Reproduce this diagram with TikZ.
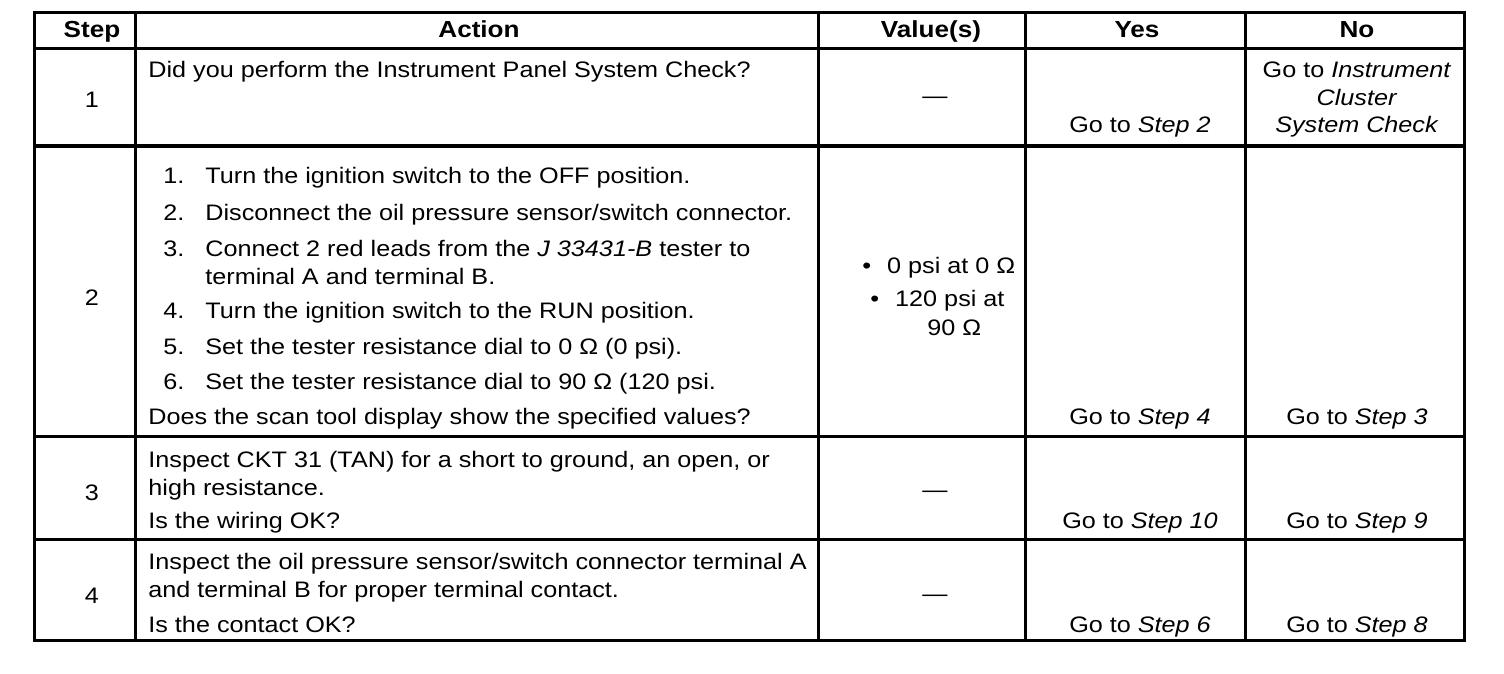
\documentclass[tikz,border=0pt]{standalone}
\usepackage{fontspec}
\setmainfont{Liberation Sans}[FakeStretch=1.125]
\def\goto#1{Go to \textit{Step #1}}
\def\novalue{---}
\def\litem#1#2#3{\node[txt] (num#1) at (163,#2) {#1.}; \node[txt] (item#1) at (205,#2) {#3};}
\tikzset{
  txt/.style={inner sep=0pt, anchor=base west},
  ctr/.style={inner sep=0pt, anchor=base},
  hdr/.style={inner sep=0pt, anchor=base, font=\fontsize{11.6}{14}\selectfont\bfseries},
  rule/.style={line width=1.5pt}
}

\begin{document}
\begin{tikzpicture}[x=0.5pt, y=-0.5pt, font=\fontsize{11.2}{13.75}\selectfont]
  \useasboundingbox (0,0) rectangle (1504,674);
  % grid
  \draw[rule] (34,13) rectangle (1464,640);
  \foreach \x in {135,818,1025,1245} \draw[rule] (\x,13) -- (\x,640);
  \foreach \y in {49,146,436,539} \draw[rule] (34,\y) -- (1464,\y);
  % header
  \node[hdr] (hstep) at (92,38) {Step};
  \node[hdr] (haction) at (479,38) {Action};
  \node[hdr] (hvalue) at (931,38) {Value(s)};
  \node[hdr] (hyes) at (1137,38) {Yes};
  \node[hdr] (hno) at (1357,38) {No};
  % step 1
  \node[ctr] (s1) at (92,108) {1};
  \node[txt] (a1) at (148,78) {Did you perform the Instrument Panel System Check?};
  \node[ctr] (v1) at (935,104) {\novalue};
  \node[ctr] (y1) at (1140,133) {\goto{2}};
  \node[ctr] (n1a) at (1357,78) {Go to \textit{Instrument}};
  \node[ctr] (n1b) at (1357,105) {\textit{Cluster}};
  \node[ctr] (n1c) at (1357,133) {\textit{System Check}};
  % step 2
  \node[ctr] (s2) at (92,305) {2};
  \litem{1}{184}{Turn the ignition switch to the OFF position.}
  \litem{2}{220}{Disconnect the oil pressure sensor/switch connector.}
  \litem{3}{256}{Connect 2 red leads from the \textit{J 33431-B} tester to}
  \node[txt] (item3b) at (205,284) {terminal A and terminal B.};
  \litem{4}{318}{Turn the ignition switch to the RUN position.}
  \litem{5}{354}{Set the tester resistance dial to 0 Ω (0 psi).}
  \litem{6}{389}{Set the tester resistance dial to 90 Ω (120 psi.}
  \node[txt] (a2) at (148,424) {Does the scan tool display show the specified values?};
  \node[txt] (v2a) at (862,273) {•\hspace{8pt}0 psi at 0 Ω};
  \node[txt] (v2b) at (870,306) {•\hspace{8pt}120 psi at};
  \node[txt] (v2c) at (927,335) {90 Ω};
  \node[ctr] (y2) at (1140,424) {\goto{4}};
  \node[ctr] (n2) at (1357,424) {\goto{3}};
  % step 3
  \node[ctr] (s3) at (92,500) {3};
  \node[txt] (a3a) at (148,467) {Inspect CKT 31 (TAN) for a short to ground, an open, or};
  \node[txt] (a3b) at (148,495) {high resistance.};
  \node[txt] (a3c) at (148,528) {Is the wiring OK?};
  \node[ctr] (v3) at (935,497) {\novalue};
  \node[ctr] (y3) at (1140,528) {\goto{10}};
  \node[ctr] (n3) at (1357,528) {\goto{9}};
  % step 4
  \node[ctr] (s4) at (92,603) {4};
  \node[txt] (a4a) at (148,569) {Inspect the oil pressure sensor/switch connector terminal A};
  \node[txt] (a4b) at (148,597) {and terminal B for proper terminal contact.};
  \node[txt] (a4c) at (148,632) {Is the contact OK?};
  \node[ctr] (v4) at (935,601) {\novalue};
  \node[ctr] (y4) at (1140,632) {\goto{6}};
  \node[ctr] (n4) at (1357,632) {\goto{8}};
\end{tikzpicture}
\end{document}
